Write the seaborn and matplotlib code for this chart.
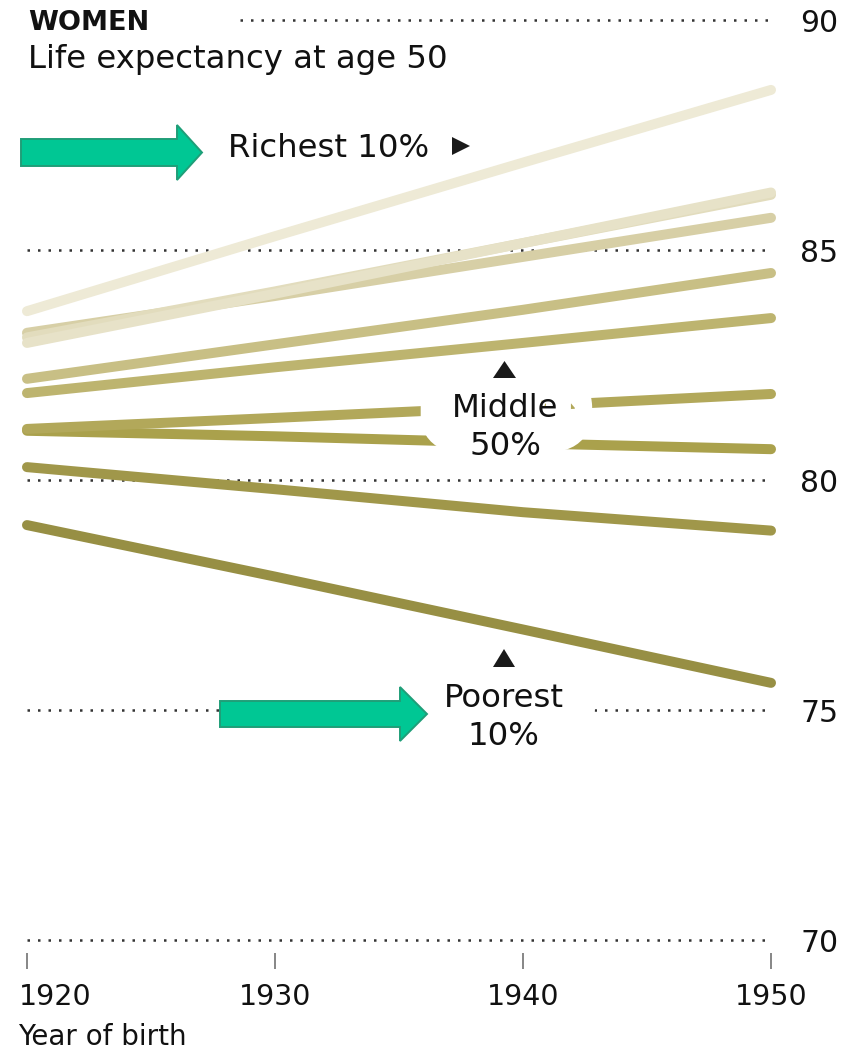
import numpy as np
import pandas as pd
import matplotlib
matplotlib.use("Agg")
import matplotlib.pyplot as plt
import matplotlib.patches as mpatches
import matplotlib.patheffects as pe
import matplotlib.transforms as mtransforms
import seaborn as sns

# ---- data: life expectancy at age 50 for women, by income decile ----
years = [1920, 1930, 1940, 1950]
decile_1 = [79.02, 77.90, 76.75, 75.59]   # poorest 10%
decile_2 = [80.28, 79.80, 79.30, 78.90]
decile_3 = [81.07, 80.95, 80.80, 80.67]
decile_4 = [81.11, 81.35, 81.60, 81.87]
decile_5 = [81.89, 82.45, 82.98, 83.52]
decile_6 = [82.20, 82.95, 83.70, 84.50]
decile_7 = [83.20, 84.00, 84.85, 85.70]
decile_8 = [83.10, 84.10, 85.15, 86.20]
decile_9 = [82.98, 84.05, 85.15, 86.25]
decile_10 = [83.67, 85.30, 86.90, 88.48]  # richest 10%

deciles = [decile_1, decile_2, decile_3, decile_4, decile_5,
           decile_6, decile_7, decile_8, decile_9, decile_10]
decile_names = [f"D{i}" for i in range(1, 11)]
palette = ["#978f44", "#a0974a", "#aaa14c", "#b2a85a", "#bdb46f",
           "#c8bf85", "#d7cfa6", "#e2dcbd", "#e7e2c8", "#eeead6"]

y_ticks = [70, 75, 80, 85, 90]
x_ticks = [1920, 1930, 1940, 1950]

df = pd.DataFrame({
    "year": np.tile(years, len(deciles)),
    "life": np.concatenate(deciles),
    "decile": np.repeat(decile_names, len(years)),
})

# ---- figure ----
W, H = 851, 1053
sns.set_style("white")
plt.rcParams["font.family"] = ["DejaVu Sans"]
fig = plt.figure(figsize=(W / 100, H / 100), dpi=100)


def fx(x):
    return x / W


def fy(y):
    return 1 - y / H


ax = fig.add_axes([fx(27), fy(940), (771 - 27) / W, 920 / H])
ax.set_xlim(1920, 1950)
ax.set_ylim(70, 90)

# dotted reference lines
grid_start = {90: 1928.6}
for v in y_ticks:
    g = ax.hlines(v, grid_start.get(v, 1920), 1950, colors="#333333",
                  linestyles=(0, (1, 3.2)), linewidth=1.8, zorder=1)
    g.set_clip_on(False)

sns.lineplot(data=df, x="year", y="life", hue="decile",
             hue_order=decile_names, palette=palette,
             linewidth=7.2, legend=False, ax=ax, zorder=2)
for ln in ax.lines:
    ln.set_solid_capstyle("round")
    ln.set_clip_on(False)

for s in ax.spines.values():
    s.set_visible(False)
ax.spines["bottom"].set_position(("outward", 9.4))
ax.set_xlabel("")
ax.set_ylabel("")

ax.set_xticks(x_ticks)
ax.set_xticklabels([str(t) for t in x_ticks])
ax.tick_params(axis="x", bottom=True, direction="out", length=11.5,
               width=1.1, color="#666666", pad=10, labelsize=20.5,
               labelcolor="#111111")
first = ax.get_xticklabels()[0]
first.set_horizontalalignment("left")
first.set_transform(first.get_transform() +
                    mtransforms.ScaledTranslation(-8 / 100, 0, fig.dpi_scale_trans))

ax.yaxis.tick_right()
ax.set_yticks(y_ticks)
ax.set_yticklabels([str(t) for t in y_ticks])
ax.tick_params(axis="y", left=False, right=False, length=0, pad=21,
               labelsize=21.5, labelcolor="#111111")

# ---- titles ----
fig.text(fx(28), fy(30), "WOMEN", fontsize=19.5, fontweight="heavy",
         color="#111111", ha="left", va="baseline")
fig.text(fx(28), fy(68), "Life expectancy at age 50", fontsize=23.3,
         color="#111111", ha="left", va="baseline")
fig.text(fx(18), fy(1045), "Year of birth", fontsize=20,
         color="#111111", ha="left", va="baseline")

# ---- annotations ----
lab_kw = dict(fontsize=23.3, va="baseline")
fig.text(fx(228), fy(157), "Richest 10%", ha="left", color="#111111",
         zorder=5, **lab_kw)

# labels that sit on top of the lines get a white halo underneath
halo_labels = [
    (505.5, 417, "Middle", 50),
    (505, 455, "50%", 30),
    (504, 707, "Poorest", 46),
    (503, 745, "10%", 30),
]
for x, y, s, w in halo_labels:
    fig.text(fx(x), fy(y), s, ha="center", color="white",
             path_effects=[pe.withStroke(linewidth=w, foreground="white")],
             zorder=3, **lab_kw)
for x, y, s, w in halo_labels:
    fig.text(fx(x), fy(y), s, ha="center", color="#111111",
             zorder=5, **lab_kw)


def pix_poly(points, **kw):
    verts = [(fx(x), fy(y)) for x, y in points]
    fig.add_artist(mpatches.Polygon(verts, closed=True,
                                    transform=fig.transFigure, **kw))


tri_kw = dict(facecolor="#1a1a1a", edgecolor="none", zorder=6)
pix_poly([(452, 137), (452, 155), (470, 146)], **tri_kw)
pix_poly([(493, 378), (516, 378), (504.5, 361)], **tri_kw)
pix_poly([(493, 667), (515, 667), (504, 649)], **tri_kw)


def block_arrow(x0, x_neck, x_tip, yc, body_half, head_half):
    pts = [(x0, yc - body_half), (x_neck, yc - body_half),
           (x_neck, yc - head_half), (x_tip, yc),
           (x_neck, yc + head_half), (x_neck, yc + body_half),
           (x0, yc + body_half)]
    pix_poly(pts, facecolor="#00c794", edgecolor="#1f9e78",
             linewidth=1.4, zorder=7)


block_arrow(21, 177, 202, 152.5, 13.5, 27.5)
block_arrow(220, 400, 427, 714, 13, 27)

fig.savefig("out.png", dpi=100, facecolor="white")
